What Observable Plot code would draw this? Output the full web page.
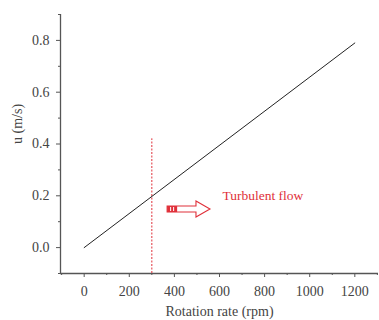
<!DOCTYPE html>
<html><head><meta charset="utf-8">
<script src="https://cdn.jsdelivr.net/npm/d3@7"></script>
<script src="https://cdn.jsdelivr.net/npm/@observablehq/plot@0.6"></script>
<style>body{margin:0;background:#fff}</style>
</head><body><div id="chart"></div>
<script>
const rpm = [0, 1200];
const velocity = [0, 0.79];
const xTicks = [0, 200, 400, 600, 800, 1000, 1200];
const xMinor = [-100, 100, 300, 500, 700, 900, 1100, 1300];
const yTicks = [0, 0.2, 0.4, 0.6, 0.8];
const yMinor = [-0.1, 0.1, 0.3, 0.5, 0.7, 0.9];
const transitionRpm = [300];
const transitionRange = [-0.1, 0.42];
const arrowStart = [370], arrowEnd = [560], arrowLevel = [0.147];
const noteText = ["Turbulent flow"];
const noteX = [613], noteY = [0.2];

const line = rpm.map((r, i) => ({r, u: velocity[i]}));
const red = "#e0303a";
const font = "Liberation Serif, Times New Roman, serif";

function hollowArrow(index, scales) {
  const g = d3.create("svg:g");
  const x0 = scales.x(arrowStart[0]), x1 = scales.x(arrowEnd[0]), y = scales.y(arrowLevel[0]);
  const hw = 3, hh = 8, hl = 14;
  const xb = x1 - hl;
  const pts = [[x0, y-hw],[xb, y-hw],[xb, y-hh],[x1, y],[xb, y+hh],[xb, y+hw],[x0, y+hw]];
  g.append("path").attr("d", "M" + pts.join("L") + "Z")
    .attr("fill", "white").attr("stroke", red).attr("stroke-width", 1.1);
  g.append("rect").attr("x", x0).attr("y", y-hw).attr("width", 10).attr("height", 2*hw).attr("fill", red);
  [3.5, 6.5].forEach(d => g.append("line").attr("x1", x0+d).attr("x2", x0+d)
    .attr("y1", y-hw+1).attr("y2", y+hw-1).attr("stroke", "white").attr("stroke-width", 1));
  return g.node();
}

const chart = Plot.plot({
  width: 379, height: 320,
  marginLeft: 60, marginRight: 1, marginTop: 14, marginBottom: 47,
  style: {fontFamily: font, fontSize: "14px", color: "#444", background: "white"},
  x: {domain: [-105, 1305]},
  y: {domain: [-0.1, 0.9]},
  marks: [
    Plot.axisX({ticks: xTicks, tickSize: 4, tickPadding: 9, tickFormat: d => String(d), label: null, stroke: "#555", fontSize: 14}),
    Plot.axisX({ticks: xMinor, tickSize: 2, text: null, label: null, stroke: "#555"}),
    Plot.axisY({ticks: yTicks, tickSize: 4, tickPadding: 7, tickFormat: d3.format(".1f"), label: null, stroke: "#555", fontSize: 14}),
    Plot.axisY({ticks: yMinor, tickSize: 2, text: null, label: null, stroke: "#555"}),
    Plot.ruleY([-0.1], {stroke: "#555", strokeWidth: 1.3}),
    Plot.ruleX([-105], {stroke: "#555", strokeWidth: 1.3}),
    Plot.ruleX(transitionRpm, {y1: transitionRange[0], y2: transitionRange[1], stroke: red, strokeDasharray: "2,1.5", strokeWidth: 1}),
    Plot.line(line, {x: "r", y: "u", stroke: "#222", strokeWidth: 1}),
    hollowArrow,
    Plot.text(noteText, {x: noteX, y: noteY, text: d => d, fill: red, textAnchor: "start", fontSize: 13.5, fontFamily: font}),
    Plot.text(["Rotation rate (rpm)"], {frameAnchor: "bottom", dy: 38, text: d => d, fontSize: 14, fill: "#444", fontFamily: font, lineAnchor: "middle"}),
    Plot.text(["u (m/s)"], {frameAnchor: "left", dx: -43, rotate: -90, text: d => d, fontSize: 14, fill: "#444", fontFamily: font})
  ]
});
document.getElementById("chart").append(chart);
</script></body></html>
